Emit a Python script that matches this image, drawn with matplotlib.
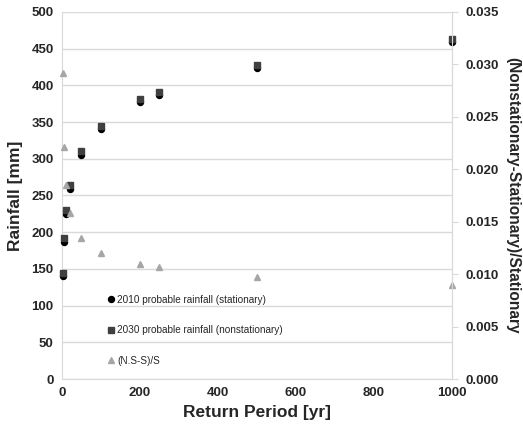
import matplotlib.pyplot as plt

plt.rcParams['font.family'] = ['Liberation Sans', 'DejaVu Sans']

# return periods [yr]
return_period = [2, 5, 10, 20, 50, 100, 200, 250, 500, 1000]
# probable rainfall [mm]
rain_2010 = [141, 187, 225, 259, 305, 341, 377, 387, 424, 459]
rain_2030 = [145, 192, 230, 264, 310, 345, 382, 391, 428, 463]
# (N.S-S)/S
ratio = [0.0292, 0.0221, 0.0185, 0.0158, 0.0134, 0.0120, 0.0110, 0.0107, 0.0097, 0.0090]

grid_col = '#d9d9d9'
text_col = '#262626'

fig = plt.figure(figsize=(5.23, 4.30), dpi=100)
ax = fig.add_axes([0.1185, 0.1186, 0.7455, 0.8535])
ax2 = ax.twinx()

h1, = ax.plot(return_period, rain_2010, 'o', color='black', ms=4.3,
              label='2010 probable rainfall (stationary)', zorder=3, clip_on=False)
h2, = ax.plot(return_period, rain_2030, 's', color='#404040', ms=4.3,
              label='2030 probable rainfall (nonstationary)', zorder=4, clip_on=False)
h3, = ax2.plot(return_period, ratio, '^', color='#a6a6a6', ms=4.3,
               label='(N.S-S)/S', clip_on=False)

ax.set_xlim(0, 1000)
ax.set_ylim(0, 500)
ax2.set_ylim(0, 0.035)
ax.set_xticks(range(0, 1001, 200))
ax.set_yticks(range(0, 501, 50))
ax2.set_yticks([i * 0.005 for i in range(8)])
ax2.set_yticklabels([f'{i * 0.005:.3f}' for i in range(8)])

ax.grid(axis='y', color=grid_col, lw=1)
ax.set_axisbelow(True)

for a in (ax, ax2):
    for s in a.spines.values():
        s.set_color(grid_col)
    a.spines['top'].set_visible(False)
ax2.spines['left'].set_visible(False)
ax2.spines['bottom'].set_visible(False)

ax.tick_params(axis='both', length=0, labelsize=9.5, colors=text_col, pad=6)
ax2.tick_params(axis='y', length=4, color=grid_col, labelsize=9.5,
                labelcolor=text_col, pad=6)
for lab in ax.get_xticklabels() + ax.get_yticklabels() + ax2.get_yticklabels():
    lab.set_fontweight('bold')

ax.set_xlabel('Return Period [yr]', fontsize=12.5, fontweight='bold',
              color=text_col, labelpad=4)
ax.set_ylabel('Rainfall [mm]', fontsize=12.5, fontweight='bold',
              color=text_col, labelpad=6)
ax2.set_ylabel('(Nonstationary-Stationary)/Stationary', fontsize=11.2,
               fontweight='bold', color=text_col, rotation=-90, labelpad=15)

ax2.legend(handles=[h1, h2, h3], loc='upper left',
           bbox_to_anchor=(0.105, 0.24), frameon=False, fontsize=7.2,
           labelspacing=2.05, handletextpad=0.2, handlelength=0.8,
           borderaxespad=0, labelcolor=text_col)

fig.savefig('out.png', dpi=100)
